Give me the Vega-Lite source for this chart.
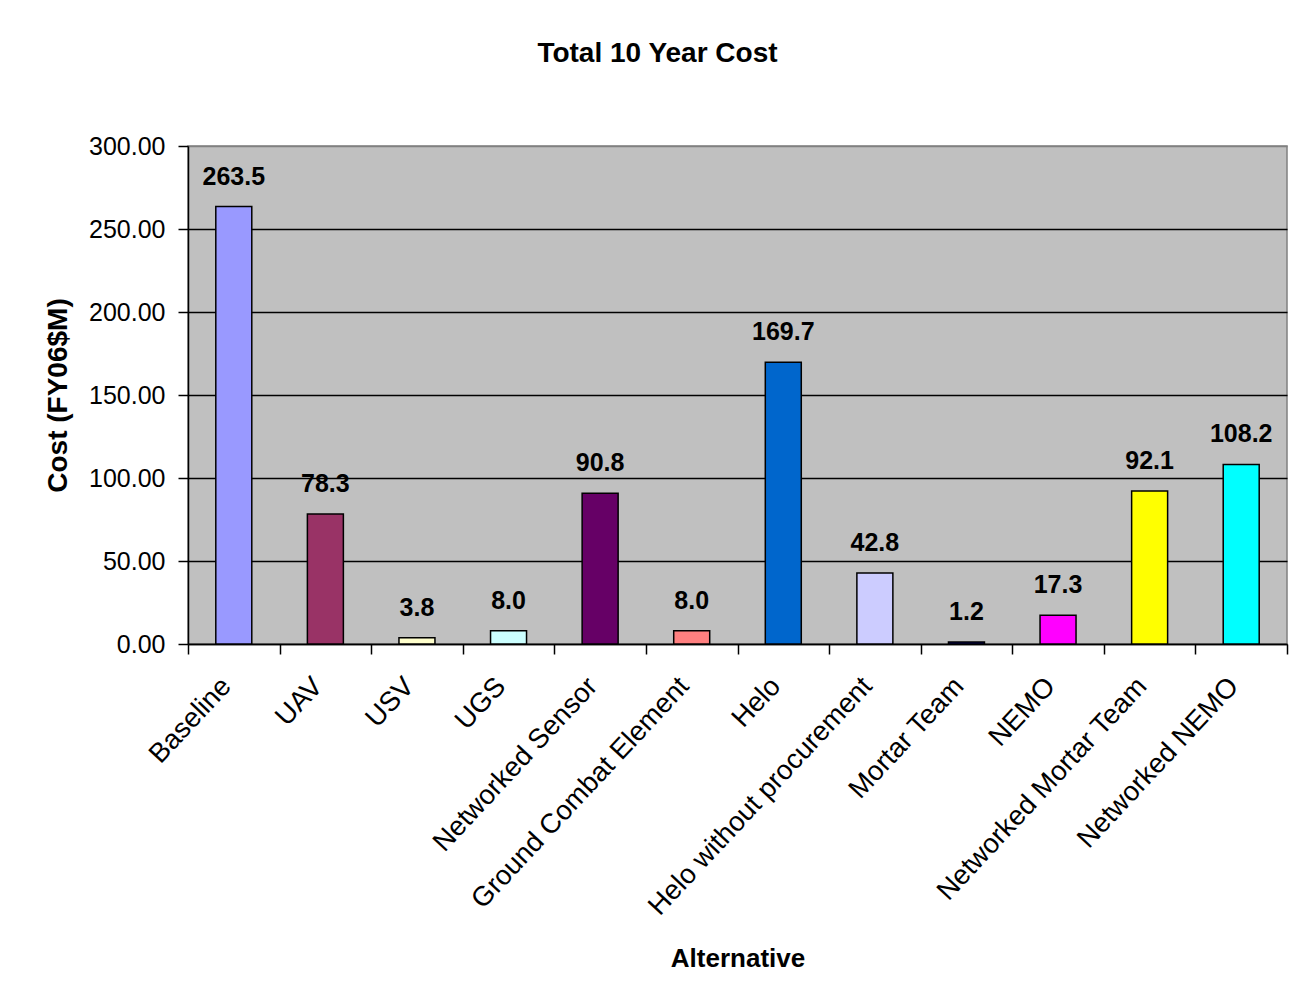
{
  "$schema": "https://vega.github.io/schema/vega-lite/v6.json",
  "width": 1099,
  "height": 498,
  "autosize": {"type": "none"},
  "padding": {"left": 188, "top": 146, "right": 4, "bottom": 359},
  "background": "white",
  "title": {
    "text": "Total 10 Year Cost",
    "font": "Liberation Sans",
    "fontSize": 28,
    "fontWeight": "bold",
    "color": "black",
    "anchor": "middle",
    "frame": "group",
    "dx": -80,
    "offset": 44,
    "baseline": "alphabetic"
  },
  "data": {
    "values": [
      {"alt": "Baseline", "cost": 263.5},
      {"alt": "UAV", "cost": 78.3},
      {"alt": "USV", "cost": 3.8},
      {"alt": "UGS", "cost": 8.0},
      {"alt": "Networked Sensor", "cost": 90.8},
      {"alt": "Ground Combat Element", "cost": 8.0},
      {"alt": "Helo", "cost": 169.7},
      {"alt": "Helo without procurement", "cost": 42.8},
      {"alt": "Mortar Team", "cost": 1.2},
      {"alt": "NEMO", "cost": 17.3},
      {"alt": "Networked Mortar Team", "cost": 92.1},
      {"alt": "Networked NEMO", "cost": 108.2}
    ]
  },
  "encoding": {
    "x": {
      "field": "alt",
      "type": "nominal",
      "sort": null,
      "scale": {"paddingInner": 0, "paddingOuter": 0},
      "axis": {
        "title": "Alternative",
        "titleFont": "Liberation Sans",
        "titleFontSize": 26,
        "titleFontWeight": "bold",
        "titleColor": "black",
        "titlePadding": 101,
        "labelFont": "Liberation Sans",
        "labelFontSize": 27.5,
        "labelColor": "black",
        "labelAngle": -47,
        "labelAlign": "right",
        "labelBaseline": "top",
        "labelPadding": 18,
        "labelOffset": -18,
        "labelLimit": 600,
        "tickBand": "extent",
        "tickSize": 10,
        "tickColor": "black",
        "tickWidth": 1.5,
        "domainColor": "black",
        "domainWidth": 1.5,
        "grid": false
      }
    },
    "y": {
      "field": "cost",
      "type": "quantitative",
      "scale": {"domain": [0, 300], "nice": false},
      "axis": {
        "title": "Cost (FY06$M)",
        "titleFont": "Liberation Sans",
        "titleFontSize": 28,
        "titleFontWeight": "bold",
        "titleColor": "black",
        "titlePadding": 16,
        "values": [0, 50, 100, 150, 200, 250, 300],
        "format": ".2f",
        "labelFont": "Liberation Sans",
        "labelFontSize": 25,
        "labelColor": "black",
        "labelPadding": 13,
        "tickSize": 10,
        "tickColor": "black",
        "tickWidth": 1.5,
        "domainColor": "black",
        "domainWidth": 1.5,
        "grid": true,
        "gridColor": {"condition": {"test": "datum.value === 300", "value": "#808080"}, "value": "black"},
        "gridWidth": 1.5,
        "gridOpacity": 1
      }
    }
  },
  "layer": [
    {
      "mark": {"type": "bar", "stroke": "black", "strokeWidth": 1.5, "width": {"band": 0.393}},
      "encoding": {
        "color": {
          "field": "alt",
          "type": "nominal",
          "sort": null,
          "legend": null,
          "scale": {
            "domain": ["Baseline", "UAV", "USV", "UGS", "Networked Sensor", "Ground Combat Element", "Helo", "Helo without procurement", "Mortar Team", "NEMO", "Networked Mortar Team", "Networked NEMO"],
            "range": ["#9999FF", "#993366", "#FFFFCC", "#CCFFFF", "#660066", "#FF8080", "#0066CC", "#CCCCFF", "#000080", "#FF00FF", "#FFFF00", "#00FFFF"]
          }
        }
      }
    },
    {
      "mark": {
        "type": "text",
        "dy": -22,
        "baseline": "alphabetic",
        "font": "Liberation Sans",
        "fontSize": 25,
        "fontWeight": "bold",
        "color": "black"
      },
      "encoding": {
        "text": {"field": "cost", "type": "quantitative", "format": ".1f"}
      }
    }
  ],
  "config": {
    "view": {"fill": "#C0C0C0", "stroke": "#808080", "strokeWidth": 1.5}
  }
}
